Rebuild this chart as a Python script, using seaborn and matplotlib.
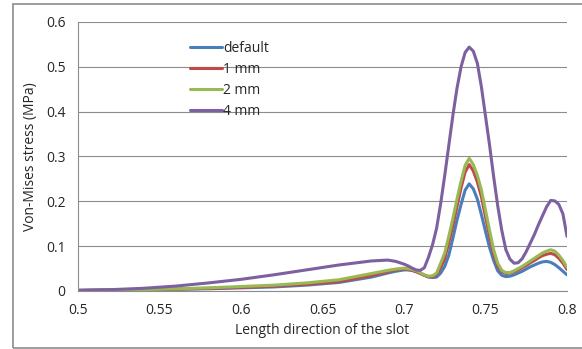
import numpy as np
import pandas as pd
import matplotlib
matplotlib.use("Agg")
import matplotlib.pyplot as plt
import seaborn as sns
from matplotlib.patches import Rectangle

# data
x_pos = [0.5, 0.52, 0.54, 0.56, 0.58, 0.6, 0.62, 0.64, 0.66, 0.68, 0.69, 0.695,
         0.700, 0.7025, 0.705, 0.7075, 0.710, 0.7125, 0.715, 0.7175, 0.720, 0.7225,
         0.725, 0.7275, 0.730, 0.7325, 0.735, 0.7375, 0.740, 0.7425, 0.745, 0.7475,
         0.750, 0.7525, 0.755, 0.7575, 0.760, 0.7625, 0.765, 0.7675, 0.770, 0.7725,
         0.775, 0.7775, 0.780, 0.7825, 0.785, 0.7875, 0.790, 0.7925, 0.795, 0.7975, 0.800]

default = [0.001, 0.002, 0.003, 0.004, 0.005, 0.007, 0.009, 0.013, 0.019, 0.031, 0.040, 0.044,
           0.047, 0.047, 0.046, 0.043, 0.040, 0.035, 0.031, 0.030, 0.031, 0.040,
           0.055, 0.080, 0.118, 0.158, 0.193, 0.225, 0.239, 0.228, 0.205, 0.170,
           0.133, 0.097, 0.068, 0.045, 0.035, 0.032, 0.033, 0.036, 0.040, 0.044,
           0.049, 0.054, 0.058, 0.062, 0.065, 0.066, 0.064, 0.059, 0.052, 0.044, 0.036]
mm1 = [0.001, 0.002, 0.003, 0.004, 0.006, 0.008, 0.011, 0.015, 0.021, 0.034, 0.043, 0.047,
       0.049, 0.048, 0.046, 0.043, 0.039, 0.035, 0.032, 0.032, 0.036, 0.052,
       0.073, 0.108, 0.146, 0.188, 0.230, 0.265, 0.282, 0.268, 0.243, 0.210,
       0.165, 0.122, 0.083, 0.056, 0.043, 0.039, 0.040, 0.043, 0.047, 0.052,
       0.057, 0.063, 0.068, 0.074, 0.079, 0.082, 0.084, 0.081, 0.073, 0.062, 0.048]
mm2 = [0.001, 0.002, 0.003, 0.005, 0.007, 0.010, 0.013, 0.018, 0.025, 0.039, 0.046, 0.049,
       0.051, 0.050, 0.048, 0.045, 0.041, 0.036, 0.033, 0.034, 0.040, 0.062,
       0.085, 0.122, 0.162, 0.205, 0.245, 0.280, 0.296, 0.282, 0.258, 0.225,
       0.180, 0.135, 0.092, 0.062, 0.046, 0.041, 0.041, 0.045, 0.050, 0.055,
       0.061, 0.067, 0.073, 0.079, 0.085, 0.089, 0.092, 0.089, 0.080, 0.068, 0.053]
mm4 = [0.002, 0.003, 0.006, 0.011, 0.018, 0.026, 0.036, 0.047, 0.058, 0.067, 0.069, 0.066,
       0.060, 0.056, 0.051, 0.047, 0.046, 0.052, 0.075, 0.103, 0.140, 0.195,
       0.258, 0.325, 0.392, 0.452, 0.500, 0.532, 0.544, 0.535, 0.508, 0.455,
       0.390, 0.325, 0.255, 0.190, 0.135, 0.092, 0.071, 0.062, 0.063, 0.072,
       0.088, 0.107, 0.126, 0.148, 0.168, 0.188, 0.202, 0.201, 0.193, 0.172, 0.122]

labels = ["default", "1 mm", "2 mm", "4 mm"]
colors = ["#4A7EBB", "#BE4B48", "#98B954", "#7D60A0"]

df = pd.concat([pd.DataFrame({"x": x_pos, "y": v, "series": n})
                for n, v in zip(labels, [default, mm1, mm2, mm4])])

sns.set_style("white")
plt.rcParams["font.family"] = ["Open Sans", "DejaVu Sans"]

fig = plt.figure(figsize=(5.82, 3.49), dpi=100)
ax = fig.add_axes([78/582, 1 - 291/349, (567-78)/582, (291-22)/349])

sns.lineplot(data=df, x="x", y="y", hue="series", hue_order=labels,
             palette=colors, linewidth=2.2, ax=ax, sort=False)
for ln in ax.get_lines():
    ln.set_solid_joinstyle("round")
    ln.set_solid_capstyle("round")

ax.set_xlim(0.5, 0.8)
ax.set_ylim(0, 0.6)
ax.set_xticks(np.arange(0.5, 0.801, 0.05))
ax.set_xticklabels(["0.5", "0.55", "0.6", "0.65", "0.7", "0.75", "0.8"])
ax.set_yticks(np.arange(0, 0.61, 0.1))
ax.set_yticklabels(["0", "0.1", "0.2", "0.3", "0.4", "0.5", "0.6"])
ax.yaxis.grid(True, color="#8c8c8c", linewidth=0.8)
ax.set_axisbelow(True)
for s in ["top", "right"]:
    ax.spines[s].set_visible(False)
for s in ["left", "bottom"]:
    ax.spines[s].set_color("#8c8c8c")
    ax.spines[s].set_linewidth(0.8)
ax.tick_params(axis="both", direction="out", length=5, width=0.8, color="#8c8c8c",
               labelsize=10, pad=4)
ax.set_xlabel("Length direction of the slot", fontsize=10, labelpad=3)
ax.set_ylabel("Von-Mises stress (MPa)", fontsize=10, labelpad=6)

leg = ax.legend(loc="upper left", bbox_to_anchor=(0.215, 0.955), frameon=False,
                fontsize=10, handlelength=2.3, handletextpad=0.1, labelspacing=0.42,
                borderpad=0)
for h in leg.get_lines():
    h.set_linewidth(2.2)

fig.patches.append(Rectangle((13/582, 1/349), 1.5, 344/349, transform=fig.transFigure,
                             fill=False, edgecolor="#8c8c8c", linewidth=1.2))

fig.savefig("out.png", dpi=100)
